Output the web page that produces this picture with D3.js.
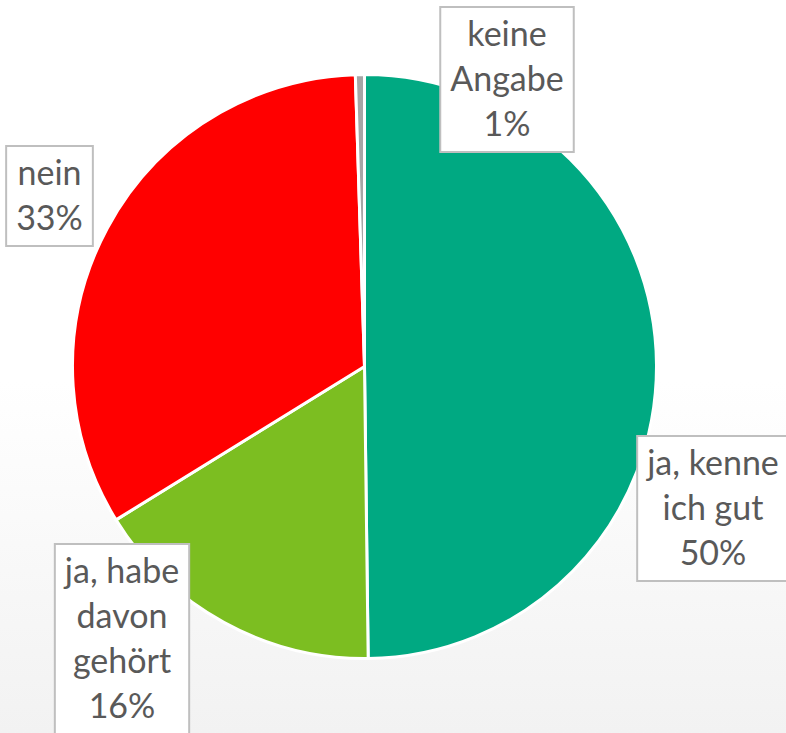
<!DOCTYPE html>
<html>
<head>
<meta charset="utf-8">
<script src="https://cdn.jsdelivr.net/npm/d3@7/dist/d3.min.js"></script>
<style>
  html, body { margin: 0; padding: 0; background: #fff; }
  svg { display: block; }
  .label-text { font-family: Lato, 'Open Sans', sans-serif; font-size: 34px; fill: #595959; }
</style>
</head>
<body>
<svg id="chart" width="786" height="733"></svg>
<script>
(function() {

  'use strict';

  // data (start at 12 o'clock, clockwise)
  var categories = ['ja, kenne ich gut', 'ja, habe davon gehört', 'nein', 'keine Angabe'];
  var values = [49.8, 16.4, 33.3, 0.5];
  var percentLabels = ['50%', '16%', '33%', '1%'];
  var labelLines = [['ja, kenne', 'ich gut'], ['ja, habe', 'davon', 'gehört'], ['nein'], ['keine', 'Angabe']];

  // layout / style
  var colors = ['#00a982', '#7cbe21', '#ff0000', '#a6a6a6'];
  var width = 786, height = 733;
  var cx = 364.5, cy = 366.5, radius = 292;
  var lineHeight = 45;
  // label box centres (manually placed in the original)
  var labelCenters = [[713, 508.5], [122, 639], [49.5, 196], [507, 79.5]];

  var rows = categories.map(function(c, i) {
    return {name: c, value: values[i], pct: percentLabels[i], lines: labelLines[i].concat([percentLabels[i]]), color: colors[i], pos: labelCenters[i]};
  });

  var svg = d3.select('#chart');

  var grad = svg.append('defs').append('linearGradient')
    .attr('id', 'bg').attr('x1', 0).attr('y1', 0).attr('x2', 0).attr('y2', 1);
  grad.append('stop').attr('offset', '0.52').attr('stop-color', '#ffffff');
  grad.append('stop').attr('offset', '1').attr('stop-color', '#f2f2f2');

  svg.append('rect')
    .attr('width', width).attr('height', height)
    .attr('fill', 'url(#bg)');

  var pie = d3.pie().sort(null).value(function(d) { return d.value; });
  var arc = d3.arc().innerRadius(0).outerRadius(radius);

  var g = svg.append('g').attr('transform', 'translate(' + cx + ',' + cy + ')');

  g.selectAll('.slice').data(pie(rows)).enter().append('path')
    .attr('class', 'slice')
    .attr('d', arc)
    .attr('fill', function(d) { return d.data.color; })
    .attr('stroke', '#ffffff')
    .attr('stroke-width', 3)
    .attr('stroke-linejoin', 'round');

  // data labels with boxes
  var labels = svg.selectAll('.label').data(rows).enter().append('g')
    .attr('class', 'label');

  labels.each(function(d) {
    var lg = d3.select(this);
    var box = lg.append('rect');
    var h = d.lines.length * lineHeight + 10;
    var top = d.pos[1] - h / 2;
    var txt = lg.append('text')
      .attr('class', 'label-text')
      .attr('text-anchor', 'middle');
    d.lines.forEach(function(line, i) {
      txt.append('tspan')
        .attr('x', d.pos[0])
        .attr('y', top + 39 + i * lineHeight)
        .text(line);
    });
    var w = 0;
    txt.selectAll('tspan').each(function() {
      w = Math.max(w, this.getComputedTextLength());
    });
    w += 20;
    box.attr('x', d.pos[0] - w / 2)
      .attr('y', top)
      .attr('width', w)
      .attr('height', h)
      .attr('fill', '#ffffff')
      .attr('stroke', '#bfbfbf')
      .attr('stroke-width', 2);
  });

})();
</script>
</body>
</html>
